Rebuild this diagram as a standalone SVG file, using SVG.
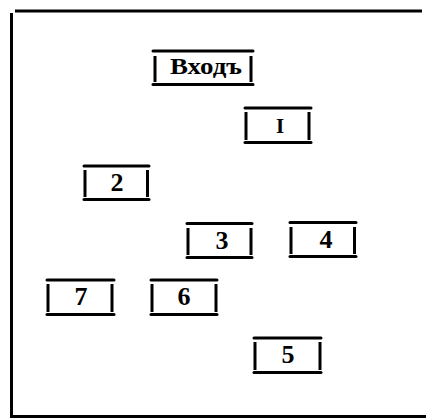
<svg xmlns="http://www.w3.org/2000/svg" width="426" height="418" viewBox="0 0 426 418">
<style>
.h{stroke:#000;stroke-width:3;stroke-linecap:round}
.v{stroke:#000;stroke-width:3;stroke-linecap:butt}
.f{stroke:#000;stroke-width:3;fill:none}
.t{font-family:"Liberation Serif","DejaVu Serif",serif;font-weight:bold;font-size:26px;text-anchor:middle;fill:#000}
</style>
<rect width="426" height="418" fill="#fff"/>
<g id="frame">
<line class="f" x1="15" y1="11" x2="422" y2="11"/>
<line class="f" x1="11.5" y1="13" x2="11.5" y2="418"/>
<line class="f" x1="13" y1="416.5" x2="426" y2="416.5"/>
</g>
<g id="connectors"></g>
<g id="entrance">
<line class="h" x1="153" y1="51" x2="253" y2="51"/>
<line class="h" x1="153" y1="84.5" x2="253" y2="84.5"/>
<line class="v" x1="155" y1="56" x2="155" y2="82"/>
<line class="v" x1="251" y1="56" x2="251" y2="82"/>
<text class="t" x="206" y="74" style="font-size:24px" textLength="72" lengthAdjust="spacingAndGlyphs">Входъ</text>
</g>
<g id="n1">
<line class="h" x1="245" y1="108" x2="311" y2="108"/>
<line class="h" x1="245" y1="142.5" x2="311" y2="142.5"/>
<line class="v" x1="246" y1="112" x2="246" y2="140"/>
<line class="v" x1="309" y1="112" x2="309" y2="140"/>
<text class="t" x="280" y="133" style="font-size:21px">I</text>
</g>
<g id="n2">
<line class="h" x1="84" y1="166" x2="149" y2="166"/>
<line class="h" x1="84" y1="199.5" x2="149" y2="199.5"/>
<line class="v" x1="85" y1="170" x2="85" y2="197"/>
<line class="v" x1="147.5" y1="170" x2="147.5" y2="197"/>
<text class="t" x="117" y="191">2</text>
</g>
<g id="n3">
<line class="h" x1="187" y1="223.5" x2="252" y2="223.5"/>
<line class="h" x1="187" y1="257.5" x2="252" y2="257.5"/>
<line class="v" x1="188" y1="228" x2="188" y2="255"/>
<line class="v" x1="251" y1="228" x2="251" y2="255"/>
<text class="t" x="222" y="249">3</text>
</g>
<g id="n4">
<line class="h" x1="290" y1="222.5" x2="356" y2="222.5"/>
<line class="h" x1="290" y1="256.5" x2="356" y2="256.5"/>
<line class="v" x1="291" y1="227" x2="291" y2="254"/>
<line class="v" x1="354.5" y1="227" x2="354.5" y2="254"/>
<text class="t" x="326" y="248">4</text>
</g>
<g id="n7">
<line class="h" x1="47" y1="280" x2="114" y2="280"/>
<line class="h" x1="47" y1="314.5" x2="114" y2="314.5"/>
<line class="v" x1="48" y1="284" x2="48" y2="312"/>
<line class="v" x1="112" y1="284" x2="112" y2="312"/>
<text class="t" x="81" y="305">7</text>
</g>
<g id="n6">
<line class="h" x1="151" y1="280" x2="217" y2="280"/>
<line class="h" x1="151" y1="314.5" x2="217" y2="314.5"/>
<line class="v" x1="152" y1="284" x2="152" y2="312"/>
<line class="v" x1="216" y1="284" x2="216" y2="312"/>
<text class="t" x="184" y="305">6</text>
</g>
<g id="n5">
<line class="h" x1="254" y1="338" x2="321" y2="338"/>
<line class="h" x1="254" y1="372.5" x2="321" y2="372.5"/>
<line class="v" x1="255" y1="342" x2="255" y2="370"/>
<line class="v" x1="320" y1="342" x2="320" y2="370"/>
<text class="t" x="288" y="363">5</text>
</g>
</svg>
